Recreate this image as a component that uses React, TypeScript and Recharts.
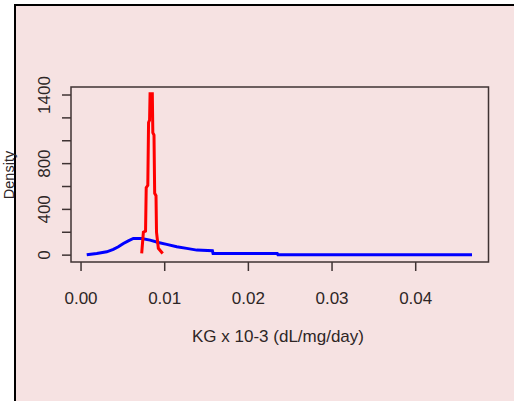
import { Label, Line, LineChart, ReferenceArea, XAxis, YAxis } from "recharts";

// density estimates
const blueX = [0.00068, 0.00188, 0.00307, 0.00386, 0.00446, 0.00506, 0.00565, 0.00625, 0.00725, 0.00825, 0.00924, 0.01024, 0.01144, 0.01263, 0.01383, 0.01570, 0.01578, 0.02345, 0.02354, 0.04673];
const blueY = [3, 15, 29, 50, 73, 102, 125, 146, 146, 131, 111, 94, 73, 59, 44, 38, 15, 15, 3, 3];

const redX = [0.00725, 0.00745, 0.00771, 0.00779, 0.00798, 0.00807, 0.00819, 0.00825, 0.00852, 0.00858, 0.00872, 0.0088, 0.00896, 0.00902, 0.00924, 0.00976];
const redY = [15, 200, 210, 590, 610, 1160, 1180, 1410, 1410, 1070, 1050, 540, 520, 200, 60, 15];

const xTicks = [0, 0.01, 0.02, 0.03, 0.04];
const yTicks = [0, 200, 400, 600, 800, 1000, 1200, 1400];
const yLabels = [0, 400, 800, 1400];

const xDomain = [-0.0012, 0.0487];
const yDomain = [-60, 1470];

const blueData = blueX.map((x, i) => ({ x, y: blueY[i] }));
const redData = redX.map((x, i) => ({ x, y: redY[i] }));

const font = "'Liberation Sans', Arial, sans-serif";
const ink = "#2e2626";
const lineCol = "#3f3333";

function XTick(props: any) {
  const { x, y, payload } = props;
  return (
    <text x={x} y={y + 31} textAnchor="middle" fontSize={17} fontFamily={font} fill={ink}>
      {payload.value.toFixed(2)}
    </text>
  );
}

function YTick(props: any) {
  const { x, y, payload } = props;
  if (!yLabels.includes(payload.value)) return <g />;
  const bx = x - 10;
  return (
    <text x={bx} y={y} transform={`rotate(-90, ${bx}, ${y})`} textAnchor="middle" fontSize={17} fontFamily={font} fill={ink}>
      {payload.value}
    </text>
  );
}

export default function App() {
  return (
    <div style={{ position: "absolute", left: 0, top: 0, width: 514, height: 401, background: "#ffffff", overflow: "hidden" }}>
      <div
        style={{
          position: "absolute",
          left: 14,
          top: 4,
          width: 500,
          height: 395,
          background: "#f6e2e2",
          borderLeft: "2px solid #000",
          borderTop: "2px solid #000",
          borderBottom: "2px solid #2a2a2a",
        }}
      />
      <div style={{ position: "absolute", left: 0, top: 0 }}>
        <LineChart width={514} height={401} data={blueData} margin={{ top: 87, right: 25.5, bottom: 79, left: 15 }}>
          <XAxis
            dataKey="x"
            type="number"
            domain={xDomain}
            ticks={xTicks}
            axisLine={false}
            tickSize={9}
            tickLine={{ stroke: lineCol, strokeWidth: 1.5 }}
            tick={<XTick />}
            height={60}
            interval={0}
          >
            <Label value="KG x 10-3 (dL/mg/day)" position="insideBottom" offset={0} content={() => (
              <text x={278} y={342} textAnchor="middle" fontSize={17} fontFamily={font} fill={ink}>
                KG x 10-3 (dL/mg/day)
              </text>
            )} />
          </XAxis>
          <YAxis
            type="number"
            domain={yDomain}
            ticks={yTicks}
            axisLine={false}
            tickSize={9}
            tickLine={{ stroke: lineCol, strokeWidth: 1.5 }}
            tick={<YTick />}
            width={56}
            interval={0}
          >
            <Label value="Density" content={() => (
              <text x={13.5} y={175} transform="rotate(-90, 13.5, 175)" textAnchor="middle" fontSize={14.5} fontFamily={font} fill={ink}>
                Density
              </text>
            )} />
          </YAxis>
          <ReferenceArea x1={xDomain[0]} x2={xDomain[1]} y1={yDomain[0]} y2={yDomain[1]} fill="none" stroke={lineCol} strokeWidth={1.5} />
          <Line data={blueData} dataKey="y" type="linear" stroke="#0000ff" strokeWidth={3} dot={false} isAnimationActive={false} />
          <Line data={redData} dataKey="y" type="linear" stroke="#ff0000" strokeWidth={3} dot={false} isAnimationActive={false} />
        </LineChart>
      </div>
    </div>
  );
}
